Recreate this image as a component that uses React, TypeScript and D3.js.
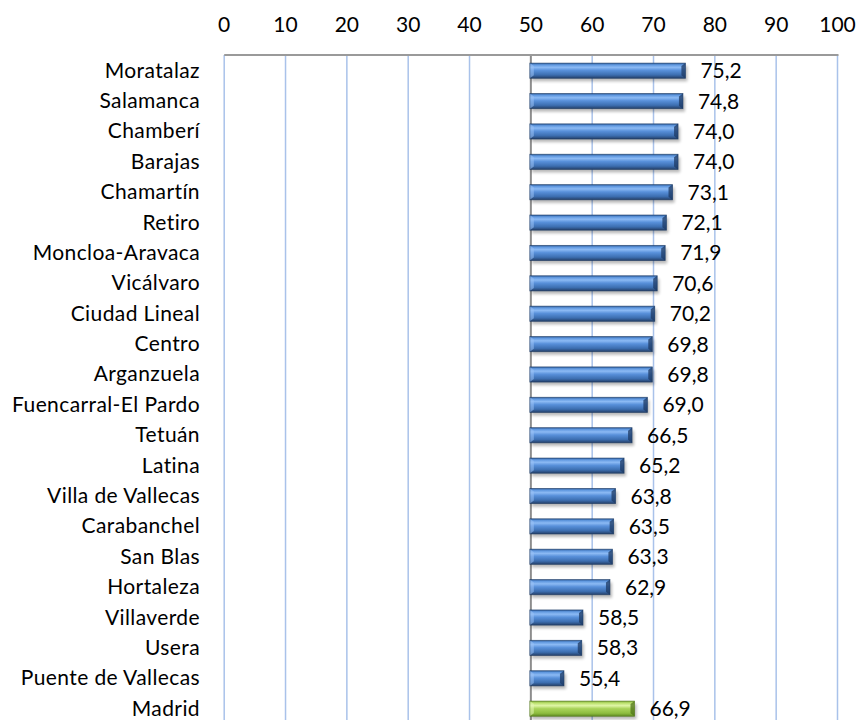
import React from "react";
import * as d3 from "d3";

const categories = [
  "Moratalaz", "Salamanca", "Chamberí", "Barajas", "Chamartín", "Retiro",
  "Moncloa-Aravaca", "Vicálvaro", "Ciudad Lineal", "Centro", "Arganzuela",
  "Fuencarral-El Pardo", "Tetuán", "Latina", "Villa de Vallecas", "Carabanchel",
  "San Blas", "Hortaleza", "Villaverde", "Usera", "Puente de Vallecas", "Madrid",
];
const values = [
  75.2, 74.8, 74.0, 74.0, 73.1, 72.1, 71.9, 70.6, 70.2, 69.8, 69.8,
  69.0, 66.5, 65.2, 63.8, 63.5, 63.3, 62.9, 58.5, 58.3, 55.4, 66.9,
];
const ticks = [0, 10, 20, 30, 40, 50, 60, 70, 80, 90, 100];
const baseValue = 50;
const highlight = "Madrid";

const W = 858;
const H = 720;
const left = 224.2;
const right = 837.5;
const top = 55;
const step = 30.38;
const FONT = "Lato, 'Open Sans', sans-serif";

export default function App() {
  const x = d3.scaleLinear().domain([0, 100]).range([left, right]);
  const y = d3
    .scaleBand<string>()
    .domain(categories)
    .range([top, top + step * categories.length])
    .paddingInner(0.5)
    .paddingOuter(0.25);
  const bh = y.bandwidth();
  const fmt = (v: number) => v.toFixed(1).replace(".", ",");

  return (
    <svg
      width={W}
      height={H}
      style={{ position: "absolute", left: 0, top: 0, background: "#fff" }}
    >
      <defs>
        <linearGradient id="gBlue" x1="0" y1="0" x2="0" y2="1">
          <stop offset="0%" stopColor="#2e5d9c" />
          <stop offset="12%" stopColor="#6199e0" />
          <stop offset="28%" stopColor="#8cbaf4" />
          <stop offset="48%" stopColor="#5890da" />
          <stop offset="78%" stopColor="#3c6eb0" />
          <stop offset="100%" stopColor="#243f68" />
        </linearGradient>
        <linearGradient id="gGreen" x1="0" y1="0" x2="0" y2="1">
          <stop offset="0%" stopColor="#7ea83a" />
          <stop offset="12%" stopColor="#b9e06a" />
          <stop offset="30%" stopColor="#dff5a6" />
          <stop offset="50%" stopColor="#a9d35a" />
          <stop offset="80%" stopColor="#8dbd3f" />
          <stop offset="100%" stopColor="#5f8a22" />
        </linearGradient>
        <filter id="shadow" x="-10%" y="-50%" width="120%" height="200%">
          <feGaussianBlur stdDeviation="1.6" />
        </filter>
      </defs>

      {/* gridlines */}
      {ticks.map((t) => (
        <line
          key={"g" + t}
          x1={x(t)}
          x2={x(t)}
          y1={top}
          y2={H + 10}
          stroke={t === baseValue ? "#8c8c8c" : "#a9c2ea"}
          strokeWidth={t === baseValue ? 2 : 1.5}
        />
      ))}
      {/* top axis line */}
      <line x1={left} x2={right + 1} y1={top} y2={top} stroke="#9a9a9a" strokeWidth={2} />

      {/* tick labels */}
      {ticks.map((t) => (
        <text
          key={"t" + t}
          x={x(t)}
          y={31.5}
          textAnchor="middle"
          fontFamily={FONT}
          fontSize={21}
          fill="#000"
        >
          {t}
        </text>
      ))}

      {/* bars */}
      {categories.map((c, i) => {
        const v = values[i];
        const x0 = x(baseValue) - 1;
        const x1 = x(v);
        const y0 = (y(c) as number) + 0.5;
        const y1 = y0 + bh;
        const isH = c === highlight;
        const dark = isH ? "#4e7318" : "#1d3a63";
        const light = isH ? "#e6f8b8" : "#9cc3f5";
        const bv = 4;
        return (
          <g key={c}>
            <rect
              x={x0 + 2}
              y={y0 + 3}
              width={x1 - x0}
              height={bh}
              fill="#000"
              opacity={0.28}
              filter="url(#shadow)"
            />
            <rect
              x={x0}
              y={y0}
              width={x1 - x0}
              height={bh}
              fill={isH ? "url(#gGreen)" : "url(#gBlue)"}
            />
            {/* right bevel */}
            <polygon
              points={`${x1 - bv},${y0 + 3} ${x1},${y0} ${x1},${y1} ${x1 - bv},${y1 - 3}`}
              fill={dark}
              opacity={0.75}
            />
            {/* left bevel */}
            <polygon
              points={`${x0},${y0} ${x0 + bv},${y0 + 3} ${x0 + bv},${y1 - 3} ${x0},${y1}`}
              fill={light}
              opacity={0.55}
            />
            <rect
              x={x0}
              y={y0}
              width={x1 - x0}
              height={bh}
              fill="none"
              stroke={dark}
              strokeWidth={0.8}
              opacity={0.7}
            />
            <text
              x={x1 + 15}
              y={y0 + bh / 2 + 7.5}
              fontFamily={FONT}
              fontSize={21}
              fill="#000"
            >
              {fmt(v)}
            </text>
          </g>
        );
      })}

      {/* category labels */}
      {categories.map((c) => (
        <text
          key={"c" + c}
          x={200}
          y={(y(c) as number) + bh / 2 + 7.5}
          textAnchor="end"
          fontFamily={FONT}
          fontSize={21}
          letterSpacing={0.4}
          fill="#000"
        >
          {c}
        </text>
      ))}
    </svg>
  );
}
